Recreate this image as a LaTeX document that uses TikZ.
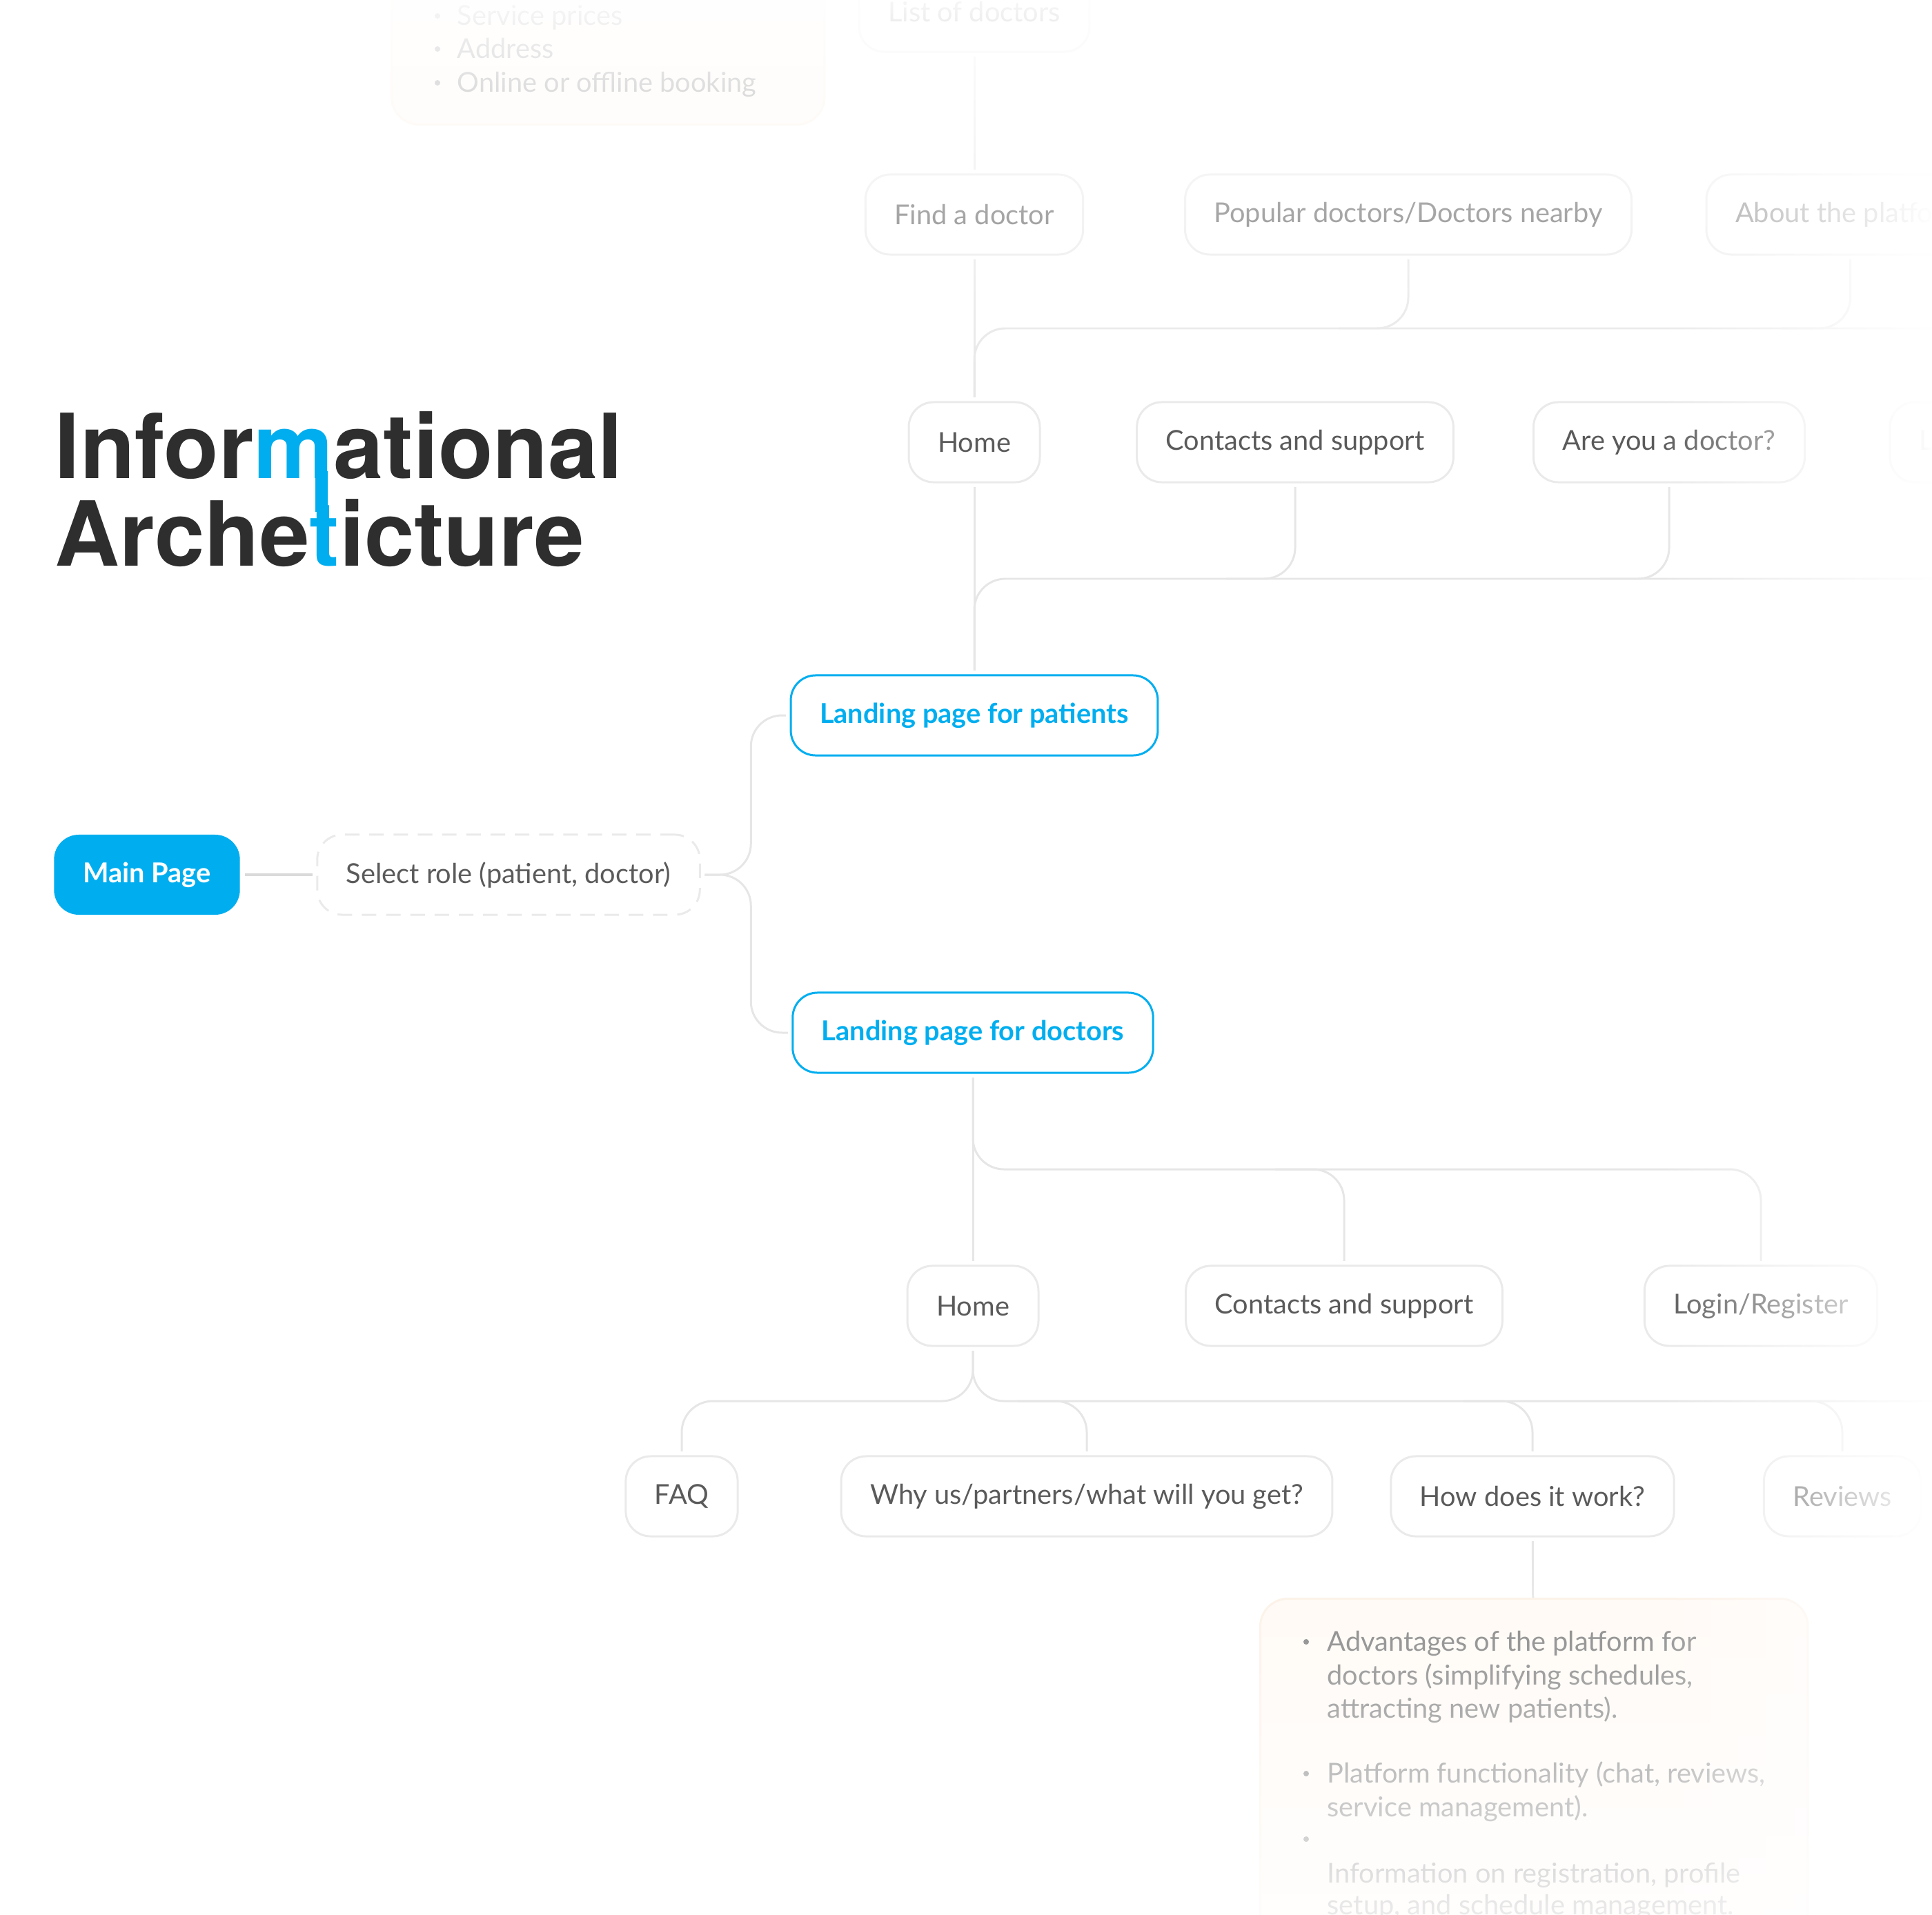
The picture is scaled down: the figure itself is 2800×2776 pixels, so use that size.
\documentclass[tikz,border=0pt]{standalone}
\usepackage{fontspec}
\setmainfont{Lato}
\newfontfamily\headfont{TeX Gyre Heros}
\usetikzlibrary{fadings}
\definecolor{brand}{HTML}{00AEEF}
\definecolor{ink}{HTML}{2E2E2E}
\definecolor{txt}{HTML}{5A5A5A}
\definecolor{soft}{HTML}{7C7C7C}
\definecolor{edge}{HTML}{EAEAEA}
\definecolor{wire}{HTML}{E6E6E6}
\definecolor{thickwire}{HTML}{DADADA}
\definecolor{note}{HTML}{FFFAF5}
\definecolor{noteedge}{HTML}{FCF1E6}
\tikzfading[name=fadetop, top color=transparent!5, bottom color=transparent!100]
\tikzfading[name=faderight, left color=transparent!100, right color=transparent!0]
\tikzfading[name=fadebottom, top color=transparent!100, bottom color=transparent!15]
\tikzset{
  box/.style={draw=edge, line width=0.85pt, rounded corners=0.36cm, minimum height=1.16cm,
    inner xsep=0.42cm, outer sep=2pt, text=txt, font=\fontsize{11.3}{14}\selectfont},
  rolebox/.style={box, draw=brand, text=brand, font=\fontsize{11.3}{14}\selectfont\bfseries},
  mainbox/.style={box, draw=none, fill=brand, text=white, font=\fontsize{11.3}{14}\selectfont\bfseries},
  pickbox/.style={box, dash pattern=on 6pt off 4pt},
  notebox/.style={draw=noteedge, fill=note, line width=0.85pt, rounded corners=0.4cm, inner sep=0pt},
  link/.style={draw=wire, line width=0.85pt, rounded corners=0.45cm},
  mainlink/.style={draw=thickwire, line width=1.4pt},
  head/.style={anchor=base west, inner sep=0pt, outer sep=0pt, text=ink,
    font=\headfont\fontsize{37}{37}\selectfont\bfseries},
  item/.style={anchor=base west, inner sep=0pt, text=soft, font=\fontsize{11.3}{14}\selectfont},
  dot/.style={fill=soft}
}
\begin{document}
\begin{tikzpicture}[x=0.01cm, y=-0.01cm]
\useasboundingbox (0,0) rectangle (2800,2776);

\node[head] (infor) at (80,693) {Infor};
\node[head, text=brand] (em) at (infor.base east) {m};
\node[head] (ational) at (em.base east) {ational};
\node[head] (arche) at (80,820) {Arche};
\node[head, text=brand] (tee) at (arche.base east) {t};
\node[head] (icture) at (tee.base east) {icture};
\fill[brand] ([xshift=-0.264cm, yshift=0.1cm]em.base east) rectangle ([xshift=-0.082cm, yshift=-0.1cm]em.base east |- tee.north);

\node[notebox, minimum width=6.27cm, minimum height=2.42cm, anchor=south west] (svcbox) at (566,182) {};
\fill[dot] (634,23) circle (4);
\fill[dot] (634,71) circle (4);
\fill[dot] (634,120) circle (4);
\node[item] (svc1) at (662,37) {Service prices};
\node[item] (svc2) at (662,85) {Address};
\node[item] (svc3) at (662,134) {Online or offline booking};

\node[mainbox] (main) at (213,1268) {Main Page};
\node[pickbox] (pick) at (737,1268) {Select role (patient, doctor)};
\node[rolebox] (lpat) at (1412,1037) {Landing page for patients};
\node[rolebox] (ldoc) at (1410,1497) {Landing page for doctors};

\node[box] (plist) at (1412,17) {List of doctors};
\node[box] (pfind) at (1412,311) {Find a doctor};
\node[box] (ppop) at (2041,311) {Popular doctors/Doctors nearby};
\node[box, anchor=west] (pabout) at (2466,311) {About the platform};
\node[box] (phome) at (1412,641) {Home};
\node[box] (pcont) at (1877,641) {Contacts and support};
\node[box] (pask) at (2419,641) {Are you a doctor?};
\node[box, anchor=west] (plog) at (2732,641) {Login/Register};

\node[box] (dhome) at (1410,1893) {Home};
\node[box] (dcont) at (1948,1893) {Contacts and support};
\node[box] (dlog) at (2552,1893) {Login/Register};
\node[box] (dfaq) at (988,2169) {FAQ};
\node[box] (dwhy) at (1575,2169) {Why us/partners/what will you get?};
\node[box] (dhow) at (2221,2169) {How does it work?};
\node[box] (drev) at (2670,2169) {Reviews};

\node[notebox, minimum width=7.93cm, minimum height=6cm, anchor=north west] (info) at (1825,2316) {};
\fill[dot] (1893,2380) circle (4);
\fill[dot] (1893,2571) circle (4);
\fill[dot] (1893,2666) circle (4);
\node[item] (adv1) at (1923,2393) {Advantages of the platform for};
\node[item] (adv2) at (1923,2442) {doctors (simplifying schedules,};
\node[item] (adv3) at (1923,2490) {attracting new patients).};
\node[item] (fun1) at (1923,2584) {Platform functionality (chat, reviews,};
\node[item] (fun2) at (1923,2633) {service management).};
\node[item] (reg1) at (1923,2729) {Information on registration, profile};
\node[item] (reg2) at (1923,2775) {setup, and schedule management.};

\coordinate (endA) at (2800,476);
\coordinate (endB) at (2800,839);
\coordinate (hubC) at (1410,1695);
\coordinate (hubD) at (1410,2031);
\coordinate (endD) at (2800,2031);

\draw[mainlink] (main) -- (pick);
\draw[link] (pick.east) -- ++(67,0) |- (lpat.west);
\draw[link] (pick.east) -- ++(67,0) |- (ldoc.west);

\draw[link] (plist) -- (pfind);
\draw[link] (pfind) -- (phome);
\draw[link] (phome) -- (lpat);
\draw[link] (phome.north) |- (endA);
\draw[link] (ppop.south) |- ([xshift=-1cm]ppop.south |- endA);
\draw[link] (pabout.south) |- ([xshift=-1cm]pabout.south |- endA);
\draw[link] (lpat.north) |- (endB);
\draw[link] (pcont.south) |- ([xshift=-1cm]pcont.south |- endB);
\draw[link] (pask.south) |- ([xshift=-1cm]pask.south |- endB);

\draw[link] (ldoc) -- (dhome);
\draw[link] (ldoc.south) -- (hubC) -| (dlog.north);
\draw[link] ([xshift=-1cm]dcont.north |- hubC) -| (dcont.north);
\draw[link] (dhome.south) -- (hubD) -| (dfaq.north);
\draw[link] (dhome.south) -- (hubD) -- (endD);
\draw[link] ([xshift=-1cm]dwhy.north |- hubD) -| (dwhy.north);
\draw[link] ([xshift=-1cm]dhow.north |- hubD) -| (dhow.north);
\draw[link] ([xshift=-1cm]drev.north |- hubD) -| (drev.north);
\draw[link] (dhow) -- (info);

\fill[white, path fading=fadetop] (0,0) rectangle (2800,600);
\fill[white, path fading=faderight] (2400,0) rectangle (2800,2776);
\fill[white, path fading=fadebottom] (0,2250) rectangle (2800,2776);
\end{tikzpicture}
\end{document}
